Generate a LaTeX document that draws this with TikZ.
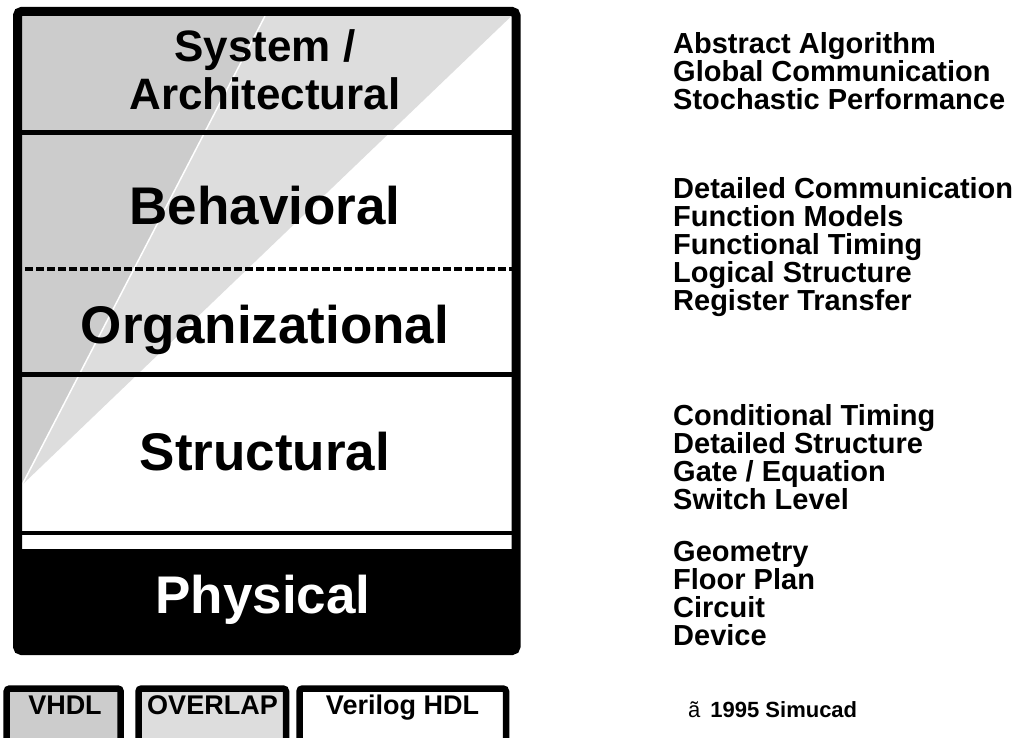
\documentclass[tikz,border=0pt]{standalone}
\usepackage{fontspec}
\setmainfont{Liberation Sans}
\definecolor{dgray}{HTML}{CCCCCC}
\definecolor{lgray}{HTML}{DDDDDD}
\tikzset{
  biglabel/.style={font=\fontsize{53}{53}\selectfont\bfseries, inner sep=0pt, anchor=base},
  toplabel/.style={font=\fontsize{44}{44}\selectfont\bfseries, inner sep=0pt, anchor=base},
  sidelist/.style={font=\fontsize{29}{28}\selectfont\bfseries, inner sep=0pt, anchor=north west, align=left},
  hdlbox/.style={line width=6.5pt, rounded corners=3pt, draw=black},
  hdltext/.style={font=\fontsize{27}{27}\selectfont\bfseries, inner sep=0pt, anchor=base},
  divider/.style={line width=5pt, draw=black},
}
\begin{document}
\begin{tikzpicture}[x=1pt,y=-1pt]
\useasboundingbox (0,0) rectangle (1023,738);
\clip (0,0) rectangle (1023,738);
% background inside frame
\fill[white] (17.5,11.5) rectangle (516,650.5);
% shading
\fill[lgray] (22,16) -- (511.5,16) -- (22,485) -- cycle;
\fill[dgray] (22,16) -- (265,16) -- (22,485) -- cycle;
\draw[white, line width=1.5pt] (265,16) -- (22,485);
% dividers
\draw[divider] (22,132.5) -- (511.5,132.5);
\draw[line width=4pt, dash pattern=on 7.5pt off 3.5pt] (25,269) -- (512,269);
\draw[divider] (22,374) -- (511.5,374);
\draw[line width=4.5pt] (22,533) -- (511.5,533);
% physical band
\fill[black] (22,549) rectangle (511.5,650.5);
% frame
\draw[line width=9pt, rounded corners=4pt] (17.5,11.5) rectangle (516,650.5);
% labels
\node[toplabel] (sys1) at (265,62) {System /};
\node[toplabel] (sys2) at (265,110) {Architectural};
\node[biglabel] (beh) at (265,225) {Behavioral};
\node[biglabel] (org) at (265,343) {Organizational};
\node[biglabel] (str) at (265,470) {Structural};
\node[biglabel, text=white] (phy) at (263,613) {Physical};
% right lists
\node[sidelist] (l1) at (673,32.2) {Abstract Algorithm\\Global Communication\\Stochastic Performance};
\node[sidelist] (l2) at (673,177.2) {Detailed Communication\\Function Models\\Functional Timing\\Logical Structure\\Register Transfer};
\node[sidelist] (l3) at (673,404.2) {Conditional Timing\\Detailed Structure\\Gate / Equation\\Switch Level};
\node[sidelist] (l4) at (673,541.2) {Geometry\\Floor Plan\\Circuit\\Device};
% HDL boxes
\draw[hdlbox, fill=dgray] (6.7,688.5) rectangle (120.7,760);
\draw[hdlbox, fill=lgray] (138.5,688.5) rectangle (286,760);
\draw[hdlbox, fill=white] (299.5,688.5) rectangle (506,760);
\node[hdltext] (vhdl) at (65,714) {VHDL};
\node[hdltext] (ovl) at (212.5,714) {OVERLAP};
\node[hdltext] (ver) at (402.5,714) {Verilog HDL};
% copyright
\node[inner sep=0pt, anchor=base west, font=\fontsize{22}{22}\selectfont] (copy) at (688,717) {ã\hspace{10pt}\bfseries 1995 Simucad};
\end{tikzpicture}
\end{document}
